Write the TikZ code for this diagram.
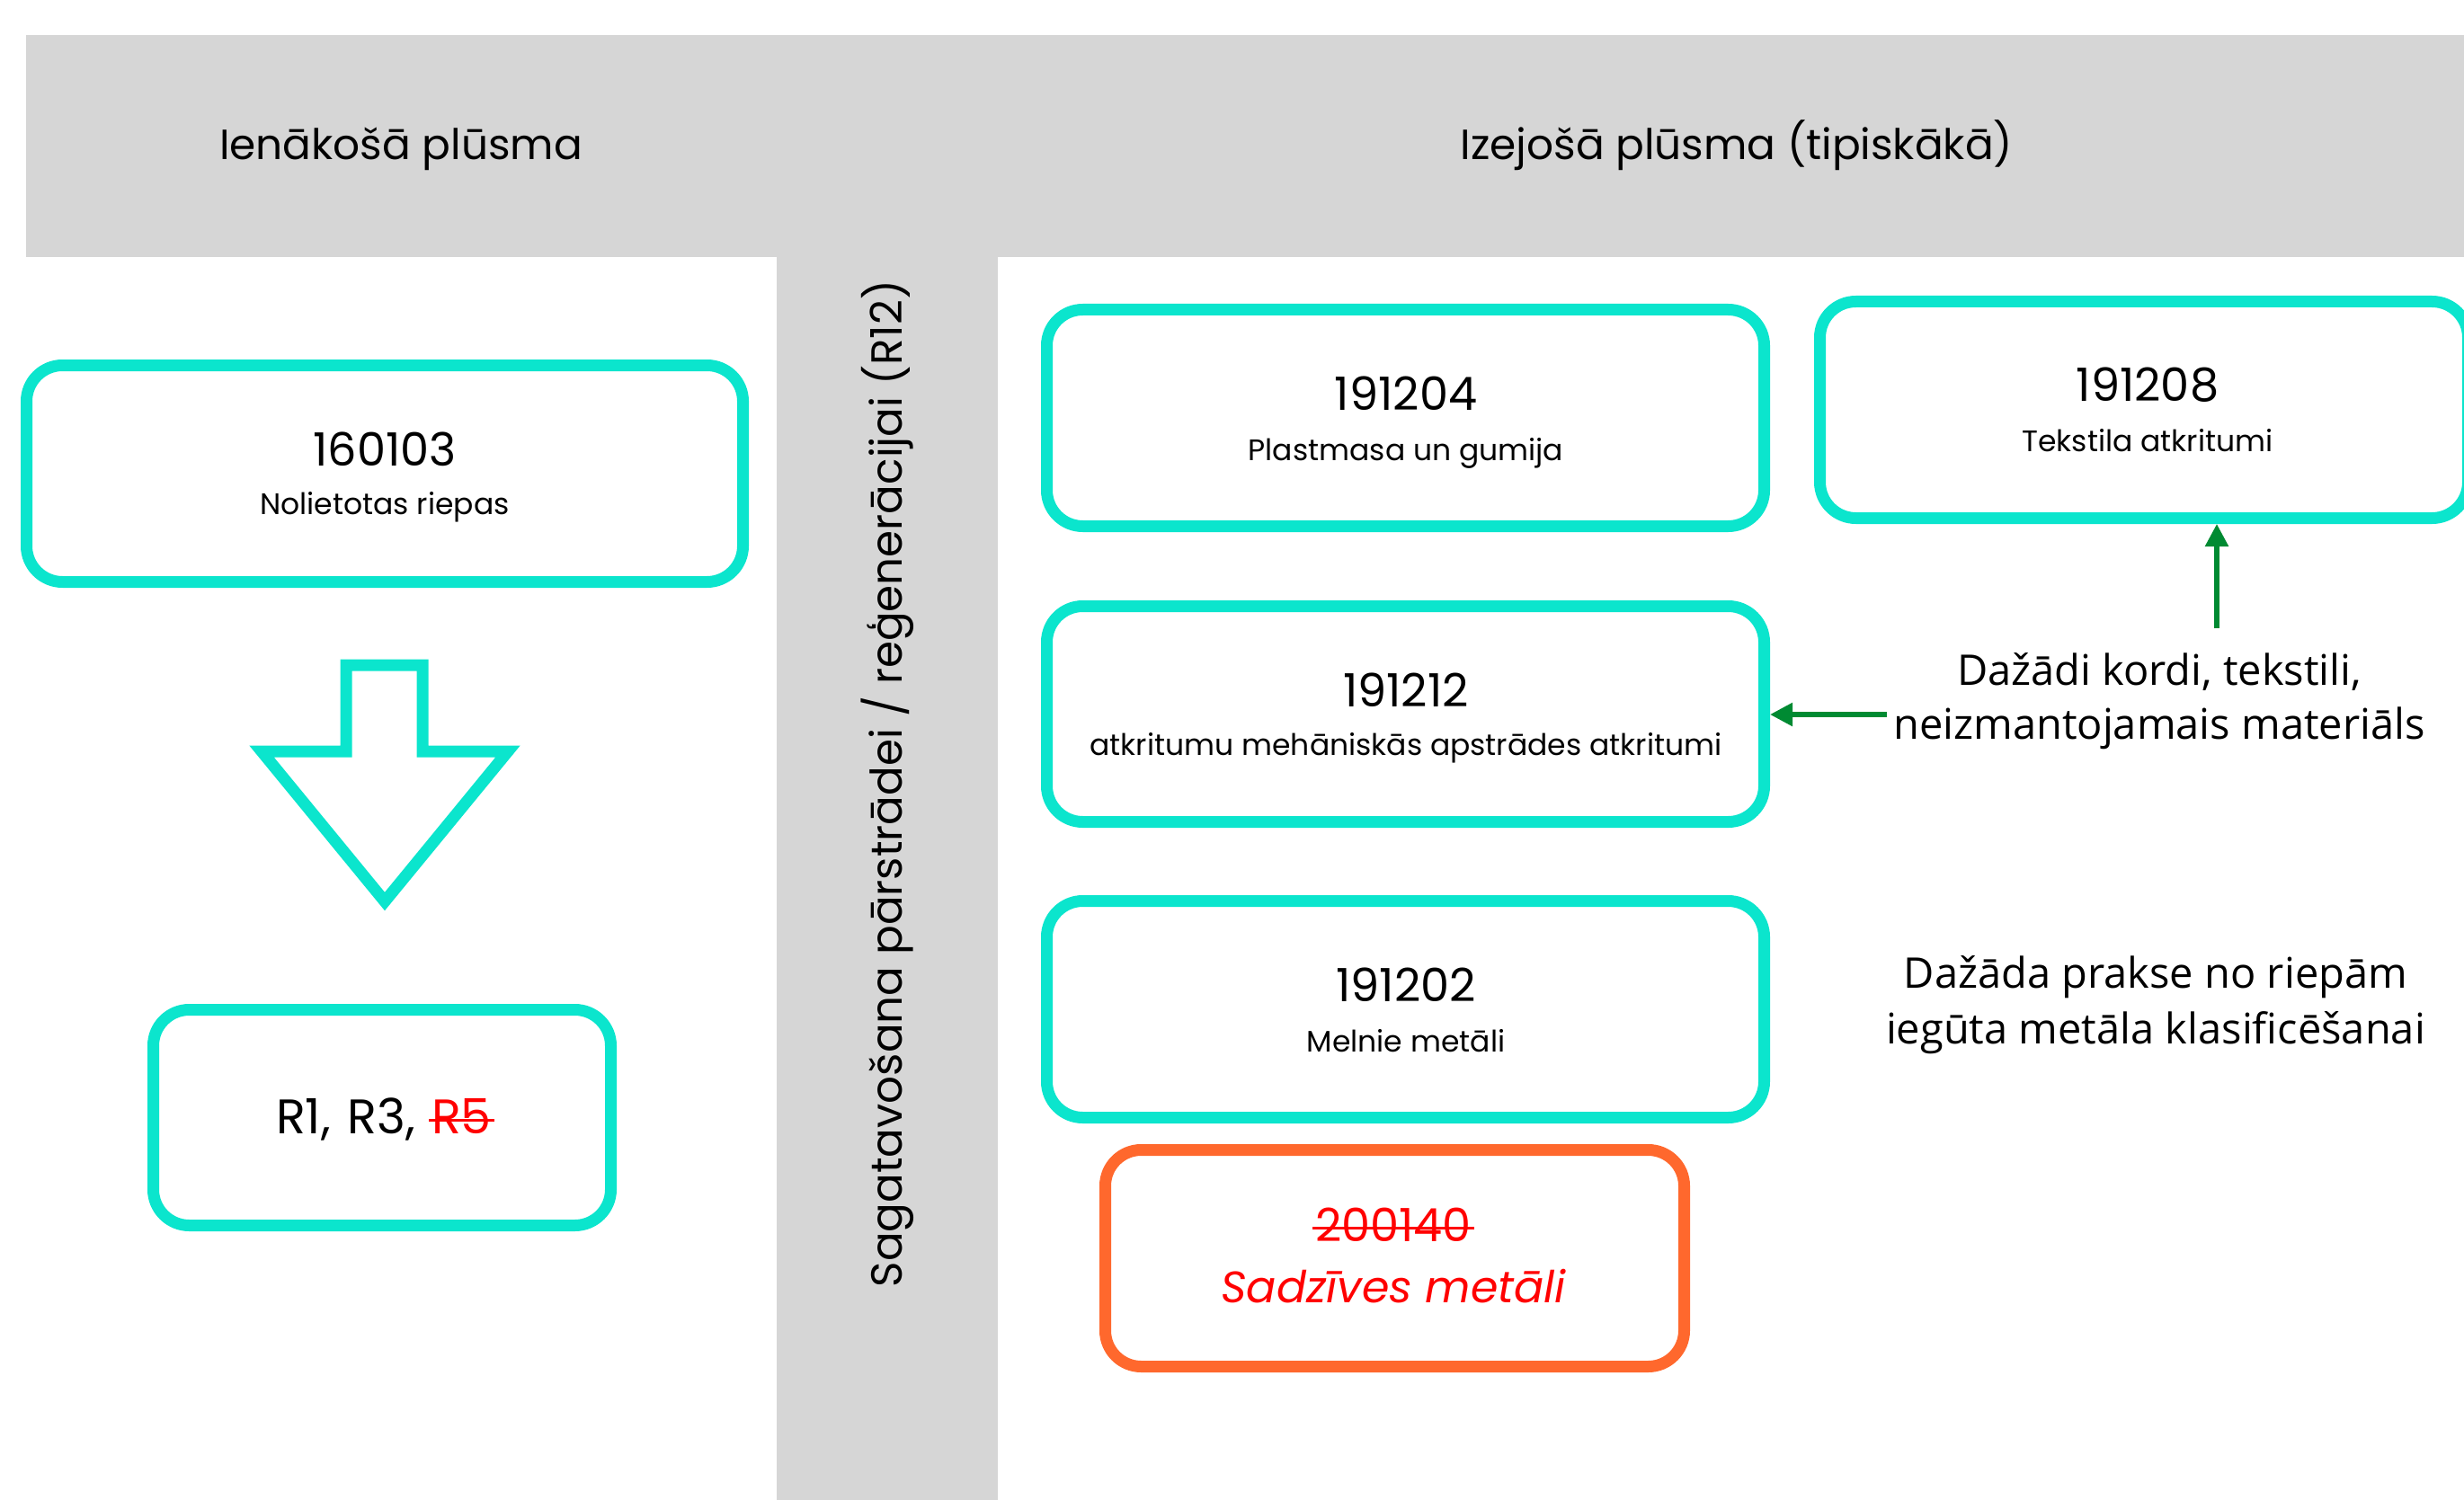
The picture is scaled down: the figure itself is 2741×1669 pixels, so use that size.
\documentclass[tikz,border=0pt]{standalone}
\usepackage{fontspec}
\setmainfont{Poppins}
\newfontfamily\annfont{Open Sans}
\newsavebox\strkbox
\newcommand\strike[1]{\sbox\strkbox{#1}\makebox[0pt][l]{\kern-3pt\rule[0.25em]{\dimexpr\wd\strkbox+6pt\relax}{3pt}}\usebox\strkbox}
\usetikzlibrary{arrows.meta}
\definecolor{tealc}{HTML}{0BE5CD}
\definecolor{orangec}{HTML}{FF682D}
\definecolor{bandgray}{HTML}{D6D6D6}
\definecolor{greenc}{HTML}{008A32}
\definecolor{redc}{HTML}{FF0000}
\tikzset{
  wbox/.style={draw=tealc, line width=13pt, rounded corners=40pt, inner sep=0pt, fill=white},
  obox/.style={wbox, draw=orangec},
  headtxt/.style={anchor=base, inner sep=0pt, font=\fontsize{47}{56}\selectfont},
  codetxt/.style={anchor=base, inner sep=0pt, font=\fontsize{51}{60}\selectfont},
  subtxt/.style={anchor=base, inner sep=0pt, font=\fontsize{33}{40}\selectfont},
  anntxt/.style={anchor=base, inner sep=0pt, font=\annfont\fontsize{47}{56}\selectfont},
  garrow/.style={draw=greenc, line width=5.5pt, -{Triangle[length=25pt,width=25pt]}},
}
\begin{document}
\begin{tikzpicture}[x=1pt,y=-1pt]
\useasboundingbox (0,0) rectangle (2741,1669);
% gray bands
\fill[bandgray] (29,39) rectangle (2741,286);
\fill[bandgray] (864,286) rectangle (1110,1669);
\node[headtxt] (hin) at (446,178) {Ienākošā plūsma};
\node[headtxt] (hout) at (1932,178) {Izejošā plūsma (tipiskākā)};
\node[anchor=base, inner sep=0pt, rotate=90, font=\fontsize{48.4}{58}\selectfont] (vert) at (1003,872) {Sagatavošana pārstrādei / reģenerācijai (R12)};
% left column
\node[wbox, minimum width=797pt, minimum height=241pt] (b1) at (428,527) {};
\node[codetxt] (b1c) at (428,518) {160103};
\node[subtxt] (b1s) at (428,572) {Nolietotas riepas};
\draw[tealc, line width=13pt, line join=miter] (385,740) -- (470,740) -- (470,836) -- (565,836) -- (428,1003) -- (291,836) -- (385,836) -- cycle;
\node[wbox, minimum width=509pt, minimum height=240pt] (bR) at (425,1243.5) {};
\node[anchor=base, inner sep=0pt, font=\fontsize{54}{60}\selectfont] (bRt) at (427,1261) {R1,\hspace{4pt} R3,\hspace{4pt} \textcolor{redc}{\strike{R5}}};
% right column
\node[wbox, minimum width=798pt, minimum height=241pt] (b2) at (1563.5,465) {};
\node[codetxt] (b2c) at (1564,456) {191204};
\node[subtxt] (b2s) at (1564,512) {Plastmasa un gumija};
\node[wbox, minimum width=721pt, minimum height=241pt] (b5) at (2385,456) {};
\node[codetxt] (b5c) at (2389,446) {191208};
\node[subtxt] (b5s) at (2389,502) {Tekstila atkritumi};
\node[wbox, minimum width=798pt, minimum height=240pt] (b3) at (1563.5,794.5) {};
\node[codetxt] (b3c) at (1564,786) {191212};
\node[subtxt] (b3s) at (1564,840) {atkritumu mehāniskās apstrādes atkritumi};
\node[wbox, minimum width=798pt, minimum height=241pt] (b4) at (1563.5,1123) {};
\node[codetxt] (b4c) at (1564,1114) {191202};
\node[subtxt] (b4s) at (1564,1170) {Melnie metāli};
\node[obox, minimum width=644pt, minimum height=241pt] (b6) at (1551.5,1400) {};
\node[codetxt, text=redc] (b6c) at (1550,1381) {\strike{200140}};
\node[codetxt, text=redc, font=\fontsize{49}{58}\selectfont\itshape] (b6s) at (1550,1449) {Sadzīves metāli};
% annotations
\node[anntxt] (k1) at (2402,762) {Dažādi kordi, tekstili,};
\node[anntxt] (k2) at (2402,822) {neizmantojamais materiāls};
\node[anntxt] (p1) at (2398,1099) {Dažāda prakse no riepām};
\node[anntxt] (p2) at (2398,1161) {iegūta metāla klasificēšanai};
\coordinate (ha) at (2099,795);
\coordinate (va) at (2466,699);
\draw[garrow] (ha) -- (b3.east |- ha);
\draw[garrow] (va) -- (va |- b5.south);
\end{tikzpicture}
\end{document}
